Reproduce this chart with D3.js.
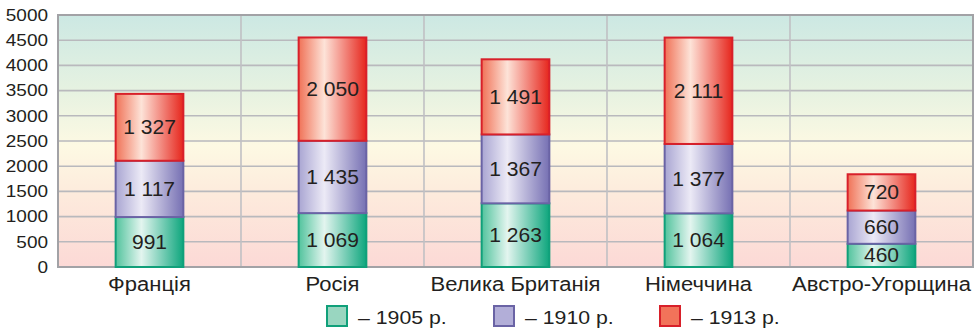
<!DOCTYPE html>
<html>
<head>
<meta charset="utf-8">
<script src="https://cdn.jsdelivr.net/npm/d3@7"></script>
<style>
  html, body { margin: 0; padding: 0; background: #fff; }
  svg { display: block; font-family: "Liberation Sans", Arial, Helvetica, sans-serif; }
</style>
</head>
<body>
<svg id="chart" width="978" height="331"></svg>
<script>
// Стовпчики: країни та показники за роками
const categories = ["Франція", "Росія", "Велика Британія", "Німеччина", "Австро-Угорщина"];
const years = ["1905 р.", "1910 р.", "1913 р."];
const values1905 = [991, 1069, 1263, 1064, 460];
const values1910 = [1117, 1435, 1367, 1377, 660];
const values1913 = [1327, 2050, 1491, 2111, 720];
const yTicks = [0, 500, 1000, 1500, 2000, 2500, 3000, 3500, 4000, 4500, 5000];

const W = 978, H = 331;
const margin = { top: 15, right: 5, bottom: 64, left: 58 };
const SX = 1.15;            // горизонтальне розширення шрифту
const INK = "#231f20";

const svg = d3.select("#chart");
const defs = svg.append("defs");

// Фон області побудови: бірюзовий угорі → світло-жовтий → рожевий унизу
const bg = defs.append("linearGradient").attr("id", "bgGrad")
  .attr("x1", 0).attr("y1", 0).attr("x2", 0).attr("y2", 1);
[["0%", "#cce8e3"], ["30%", "#e6f2e1"], ["52%", "#fdf9e3"], ["72%", "#fdeadc"], ["100%", "#fcd9d6"]]
  .forEach(([o, c]) => bg.append("stop").attr("offset", o).attr("stop-color", c));

// Стилі серій: градієнт з відблиском і колір обведення
const seriesStyle = [
  { id: "g1905", stops: ["#52c39d", "#e3f5ef", "#0ea67d"], stroke: "#10a07a", legend: "#99d6c0" },
  { id: "g1910", stops: ["#a9a5d2", "#eceaf6", "#7670b3"], stroke: "#6a63a5", legend: "#b2aed8" },
  { id: "g1913", stops: ["#f07257", "#fde3d8", "#e6261d"], stroke: "#d8202a", legend: "#f2735a" }
];
seriesStyle.forEach(s => {
  const g = defs.append("linearGradient").attr("id", s.id)
    .attr("x1", 0).attr("y1", 0).attr("x2", 1).attr("y2", 0);
  g.append("stop").attr("offset", "0%").attr("stop-color", s.stops[0]);
  g.append("stop").attr("offset", "38%").attr("stop-color", s.stops[1]);
  g.append("stop").attr("offset", "100%").attr("stop-color", s.stops[2]);
});

const x = d3.scaleBand().domain(categories).range([margin.left, W - margin.right]).padding(0);
const y = d3.scaleLinear().domain([0, 5000]).range([H - margin.bottom, margin.top]);

// Фон
svg.append("rect")
  .attr("x", x.range()[0]).attr("y", y(5000))
  .attr("width", x.range()[1] - x.range()[0]).attr("height", y(0) - y(5000))
  .attr("fill", "url(#bgGrad)");

// Горизонтальна сітка
svg.append("g").selectAll("line").data(yTicks.filter(t => t > 0 && t < 5000)).join("line")
  .attr("x1", x.range()[0]).attr("x2", x.range()[1])
  .attr("y1", d => y(d)).attr("y2", d => y(d))
  .attr("stroke", "#b9b9bd").attr("stroke-width", 1.6);

// Вертикальні роздільники між країнами
svg.append("g").selectAll("line").data(categories.slice(1)).join("line")
  .attr("x1", d => x(d)).attr("x2", d => x(d))
  .attr("y1", y(5000)).attr("y2", y(0))
  .attr("stroke", "#c0c0c4").attr("stroke-width", 1.6);

// Рамка
svg.append("rect")
  .attr("x", x.range()[0]).attr("y", y(5000))
  .attr("width", x.range()[1] - x.range()[0]).attr("height", y(0) - y(5000))
  .attr("fill", "none").attr("stroke", "#a2a2a6").attr("stroke-width", 2);

// Стек
const rows = categories.map((c, i) => ({ cat: c, "1905 р.": values1905[i], "1910 р.": values1910[i], "1913 р.": values1913[i] }));
const stacked = d3.stack().keys(years)(rows);
const fmtSp = v => d3.format(",d")(v).replace(",", " ");

const barW = x.bandwidth() * 0.37;
stacked.forEach((layer, si) => {
  const st = seriesStyle[si];
  const g = svg.append("g");
  g.selectAll("rect").data(layer).join("rect")
    .attr("x", d => x(d.data.cat) + (x.bandwidth() - barW) / 2)
    .attr("y", d => y(d[1]))
    .attr("width", barW)
    .attr("height", d => y(d[0]) - y(d[1]))
    .attr("fill", `url(#${st.id})`)
    .attr("stroke", st.stroke).attr("stroke-width", 2);
  g.selectAll("text").data(layer).join("text")
    .attr("transform", d => `translate(${x(d.data.cat) + x.bandwidth() / 2},${(y(d[0]) + y(d[1])) / 2}) scale(1.08,1)`)
    .attr("dy", "0.36em")
    .attr("text-anchor", "middle")
    .attr("font-size", 19.5).attr("fill", INK)
    .text(d => fmtSp(d[1] - d[0]));
});

// Вісь Y
const padY = 10;
svg.append("g").attr("transform", `translate(${margin.left},0)`)
  .call(d3.axisLeft(y).tickValues(yTicks).tickSize(0).tickPadding(padY).tickFormat(d3.format("d")))
  .call(g => g.select(".domain").remove())
  .call(g => g.selectAll("text")
    .attr("x", -padY / SX)
    .attr("transform", `scale(${SX},1)`)
    .attr("font-size", 16.5).attr("fill", INK)
    .attr("font-family", "'Liberation Sans', Arial, sans-serif"));

// Вісь X
svg.append("g").attr("transform", `translate(0,${y(0)})`)
  .call(d3.axisBottom(x).tickSize(0).tickPadding(10))
  .call(g => g.select(".domain").remove())
  .call(g => g.selectAll("text")
    .attr("transform", `scale(${SX - 0.02},1)`)
    .attr("font-size", 19.5).attr("fill", INK)
    .attr("font-family", "'Liberation Sans', Arial, sans-serif"));

// Легенда
const legendX = [327, 494, 660];
const legend = svg.append("g");
years.forEach((yr, i) => {
  const st = seriesStyle[i];
  legend.append("rect")
    .attr("x", legendX[i]).attr("y", 306).attr("width", 20).attr("height", 20)
    .attr("fill", st.legend).attr("stroke", st.stroke).attr("stroke-width", 2);
  legend.append("text")
    .attr("transform", `translate(${legendX[i] + 31},324) scale(${SX},1)`)
    .attr("font-size", 18.5).attr("fill", INK)
    .text("– " + yr);
});
</script>
</body>
</html>
